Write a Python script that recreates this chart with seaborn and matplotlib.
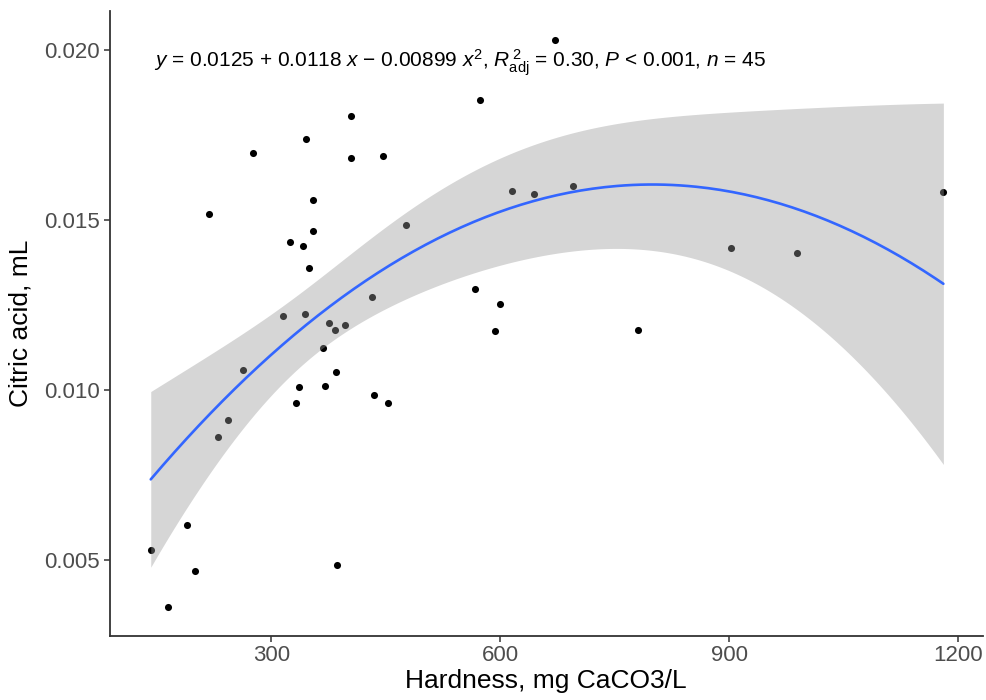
import numpy as np
import pandas as pd
import matplotlib
matplotlib.use('Agg')
import matplotlib.pyplot as plt
import seaborn as sns

# hardness (mg CaCO3/L) and citric acid (mL)
hardness = [218, 276, 346, 405, 404, 446, 355, 355, 324, 341,
            349, 477, 573, 567, 432, 316, 344, 376, 384, 396,
            368, 600, 593, 672, 616, 644, 695, 1181, 902, 989,
            781, 263, 230, 243, 332, 336, 370, 385, 435, 453,
            190, 142, 200, 164, 386]
citric = [0.01519, 0.01698, 0.01739, 0.01805, 0.01683, 0.01690, 0.01559, 0.01469, 0.01436, 0.01424,
          0.01358, 0.01485, 0.01855, 0.01297, 0.01274, 0.01218, 0.01224, 0.01196, 0.01176, 0.01191,
          0.01124, 0.01253, 0.01173, 0.02031, 0.01585, 0.01576, 0.01601, 0.01583, 0.01417, 0.01403,
          0.01176, 0.01058, 0.00861, 0.00911, 0.00961, 0.01008, 0.01010, 0.01052, 0.00986, 0.00961,
          0.00602, 0.00529, 0.00468, 0.00361, 0.00484]

x_ticks = [300, 600, 900, 1200]
y_ticks = [0.005, 0.010, 0.015, 0.020]

df = pd.DataFrame({'hardness': hardness, 'citric': citric})

# quadratic OLS fit with 95% confidence band (like geom_smooth(method = lm))
x = df['hardness'].to_numpy(float)
y = df['citric'].to_numpy(float)
X = np.column_stack([np.ones_like(x), x, x ** 2])
beta, *_ = np.linalg.lstsq(X, y, rcond=None)
resid = y - X @ beta
s2 = resid @ resid / (len(x) - 3)
cov = s2 * np.linalg.inv(X.T @ X)
grid = np.linspace(x.min(), x.max(), 200)
G = np.column_stack([np.ones_like(grid), grid, grid ** 2])
fit = G @ beta
se = np.sqrt(np.einsum('ij,jk,ik->i', G, cov, G))
t_crit = 2.018  # t(0.975, df = 42)
fit_df = pd.DataFrame({'hardness': grid, 'fit': fit,
                       'lo': fit - t_crit * se, 'hi': fit + t_crit * se})

sns.set_theme(style='ticks')
plt.rcParams['font.family'] = ['Liberation Sans', 'DejaVu Sans']
plt.rcParams['mathtext.fontset'] = 'custom'
plt.rcParams['mathtext.rm'] = 'Liberation Sans'
plt.rcParams['mathtext.it'] = 'Liberation Sans:italic'

fig = plt.figure(figsize=(9.87, 7.0), dpi=100)
ax = fig.add_axes([0.111, 0.092, 0.885, 0.892])

sns.scatterplot(data=df, x='hardness', y='citric', s=26, color='black',
                linewidth=0, ax=ax, zorder=1)
ax.fill_between(fit_df['hardness'], fit_df['lo'], fit_df['hi'],
                color='#999999', alpha=0.4, linewidth=0, zorder=2)
sns.lineplot(data=fit_df, x='hardness', y='fit', color='#3366FF', lw=1.9,
             ax=ax, zorder=3)

ax.set_xlim(88, 1233)
ax.set_ylim(0.002765, 0.02115)
ax.set_xticks(x_ticks)
ax.set_xticklabels([str(t) for t in x_ticks])
ax.set_yticks(y_ticks)
ax.set_yticklabels(['%.3f' % t for t in y_ticks])

for side in ['top', 'right']:
    ax.spines[side].set_visible(False)
for side in ['left', 'bottom']:
    ax.spines[side].set_linewidth(1.3)
    ax.spines[side].set_color('#333333')

ax.tick_params(axis='both', length=4, width=1.1, color='#333333', labelcolor='#4D4D4D',
               labelsize=16, pad=3)

ax.set_xlabel('Hardness, mg CaCO3/L', fontsize=19, color='black', labelpad=2)
ax.set_ylabel('Citric acid, mL', fontsize=19, color='black', labelpad=8)

label = (r'$\it{y}$ = 0.0125 + 0.0118 $\it{x}$ − 0.00899 $\it{x}^2$, '
         r'$\it{R}^{\,2}_{\rm adj}$ = 0.30, $\it{P}$ < 0.001, $\it{n}$ = 45')
ax.text(0.051, 0.918, label, transform=ax.transAxes, fontsize=15,
        ha='left', va='center', color='black')

fig.savefig('out.png', dpi=100)
